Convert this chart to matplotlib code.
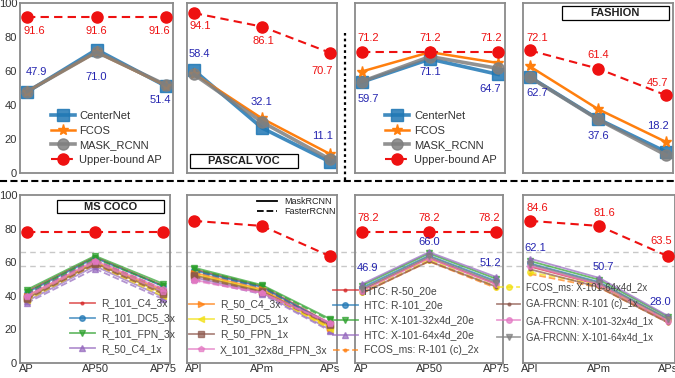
import matplotlib
matplotlib.use('Agg')
import matplotlib.pyplot as plt
import matplotlib.transforms as mtransforms
from matplotlib.lines import Line2D
from matplotlib.patches import Rectangle

plt.rcParams['font.family'] = ['Liberation Sans', 'DejaVu Sans']

# ---------------- data ----------------
metrics_a = ['AP', 'AP50', 'AP75']
metrics_b = ['APl', 'APm', 'APs']

# top row: four datasets (no title, PASCAL VOC, no title, FASHION)
centernet = [[47.6, 72.6, 51.0], [60.5, 26.5, 6.5], [53.5, 67.0, 58.0], [56.5, 31.8, 12.4]]
fcos = [[47.9, 71.0, 51.4], [58.4, 32.1, 11.1], [59.7, 71.1, 64.7], [62.7, 37.6, 18.2]]
mask_rcnn = [[47.9, 71.2, 51.8], [58.0, 30.0, 8.0], [53.8, 68.5, 61.5], [56.3, 31.5, 10.5]]
upper_top = [[91.6, 91.6, 91.6], [94.1, 86.1, 70.7], [71.2, 71.2, 71.2], [72.1, 61.4, 45.7]]

# bottom row: MS COCO
coco_models = ['R_101_C4_3x', 'R_101_DC5_3x', 'R_101_FPN_3x', 'R_50_C4_1x',
               'R_50_C4_3x', 'R_50_DC5_1x', 'R_50_FPN_1x', 'X_101_32x8d_FPN_3x']
mask_ap = [[42.6, 63.1, 46.0], [41.9, 62.6, 45.6], [43.6, 63.8, 47.2], [36.8, 57.7, 39.3],
           [39.8, 60.2, 43.2], [38.3, 59.7, 41.3], [38.6, 59.4, 42.1], [40.0, 61.0, 44.0]]
faster_ap = [[41.1, 61.4, 44.0], [40.6, 61.0, 43.2], [42.0, 62.5, 45.9], [35.7, 56.1, 38.0],
             [38.4, 58.7, 41.3], [37.3, 58.8, 39.7], [37.9, 58.8, 41.1], [39.0, 60.0, 42.5]]
mask_size = [[55.8, 45.6, 23.5], [55.2, 45.2, 23.0], [56.8, 46.4, 26.2], [51.0, 41.8, 19.8],
             [53.8, 43.9, 21.6], [52.8, 43.2, 21.2], [52.2, 42.6, 23.0], [49.5, 41.8, 24.0]]
faster_size = [[55.0, 45.2, 22.4], [54.5, 44.6, 22.0], [56.0, 45.9, 25.3], [50.0, 41.0, 19.0],
               [53.0, 43.0, 20.7], [52.0, 42.5, 20.2], [51.5, 42.0, 22.4], [49.0, 41.5, 23.5]]
upper_coco_ap = [78.2, 78.2, 78.2]
upper_coco_size = [84.6, 81.6, 63.5]

mm_models = ['HTC: R-50_20e', 'HTC: R-101_20e', 'HTC: X-101-32x4d_20e', 'HTC: X-101-64x4d_20e',
             'FCOS_ms: R-101 (c)_2x', 'FCOS_ms: X-101-64x4d_2x', 'GA-FRCNN: R-101 (c)_1x',
             'GA-FRCNN: X-101-32x4d_1x', 'GA-FRCNN: X-101-64x4d_1x']
mm_ap = [[43.3, 62.5, 47.0], [44.8, 63.9, 48.7], [46.1, 65.2, 50.1], [46.9, 66.0, 51.2],
         [41.4, 60.5, 44.6], [42.5, 61.5, 45.5], [41.5, 60.6, 45.4], [42.9, 62.3, 46.8],
         [43.9, 63.4, 47.9]]
mm_size = [[57.4, 46.6, 24.9], [59.3, 48.2, 26.1], [60.7, 49.6, 27.4], [62.1, 50.7, 28.0],
           [53.0, 45.0, 24.0], [54.0, 46.5, 25.5], [55.8, 45.2, 24.0], [57.9, 46.8, 25.1],
           [58.8, 47.6, 26.3]]
mm_dashed = [False, False, False, False, True, True, False, False, False]

ref_lines = [66.0, 57.5]

# ---------------- style ----------------
W, H = 675, 378
PX = 72 / 100
RED = '#ee1111'
BLUE = '#2525b0'
colors = ['#d62728', '#1f77b4', '#2ca02c', '#9467bd', '#ff7f0e', '#f2e011', '#8c564b', '#e377c2', '#7f7f7f']
coco_markers = ['.', 'o', 'v', '^', '>', '<', 's', 'p']
mm_markers = ['.', 'o', 'v', '^', '.', 'o', '.', 'o', 'v']

fig = plt.figure(figsize=(W / 100, H / 100), dpi=100)


def add_ax(left, right, top, bottom):
    return fig.add_axes([left / W, 1 - bottom / H, (right - left) / W, (bottom - top) / H])


def style(ax, labels, show_x, show_y):
    x = range(len(labels))
    ax.set_facecolor('none')
    ax.set_ylim(0, 100)
    ax.set_xticks(list(x))
    ax.set_xticklabels(labels, fontsize=10, color='#222222')
    ax.set_yticks(range(0, 101, 20))
    ax.tick_params(length=0, labelsize=8, labelcolor='#333333', pad=2)
    ax.tick_params(axis='x', labelbottom=show_x, pad=1)
    ax.tick_params(axis='y', labelleft=show_y)
    for s in ax.spines.values():
        s.set_color('#8a8a8a')
        s.set_linewidth(1.3)


def upper(ax, vals):
    ax.plot(range(3), vals, color=RED, ls='--', dashes=(4, 2.5), lw=1.5, marker='o', ms=8,
            zorder=6, label='Upper-bound AP')


def annot(ax, vals, offsets, color):
    for i, (v, (dx, dy)) in enumerate(zip(vals, offsets)):
        ax.annotate(f'{v:.1f}', (i, v), xytext=(dx * PX, dy * PX), textcoords='offset points',
                    ha='center', va='center', fontsize=8, color=color, zorder=8)


def boxed(ax, text, x0, x1, y0, y1):
    ax.add_patch(Rectangle((x0, y0), x1 - x0, y1 - y0, transform=ax.transAxes,
                           facecolor='white', edgecolor='black', lw=0.9, zorder=9))
    ax.text((x0 + x1) / 2, (y0 + y1) / 2, text, transform=ax.transAxes, ha='center',
            va='center', fontsize=8, fontweight='bold', color='#222222', zorder=10)


# ---------------- top row ----------------
top_pos = [(20, 173), (187, 337), (355, 505), (523, 673)]
red_off_top = [[(7, -14), (0, -14), (-7, -14)], [(6, -13), (1, -14), (-8, -18)],
               [(6, 14), (0, 14), (-7, 14)], [(7, 12.5), (0, 13.5), (-9, 12)]]
blue_off_top = [[(9, 20), (0, -25), (-6, -14)], [(6, 20), (-1, 16), (-8, 18)],
                [(6, -27), (0, -20), (-8, -26)], [(7, -26.5), (0, -27), (-8, 16)]]

for k, (l, r) in enumerate(top_pos):
    ax = add_ax(l, r, 3, 173)
    style(ax, metrics_a, False, k == 0)
    x = range(3)
    ax.plot(x, centernet[k], color='#1f77b4', alpha=0.85, lw=2.6, marker='s', ms=8, label='CenterNet')
    ax.plot(x, fcos[k], color='#ff7f0e', lw=1.8, marker='*', ms=8, label='FCOS')
    ax.plot(x, mask_rcnn[k], color='#7f7f7f', alpha=0.85, lw=2.6, marker='o', ms=8, label='MASK_RCNN')
    upper(ax, upper_top[k])
    annot(ax, upper_top[k], red_off_top[k], RED)
    annot(ax, fcos[k], blue_off_top[k], BLUE)
    if k in (0, 2):
        ax.legend(loc='upper left', bbox_to_anchor=(0.2, 0.365), frameon=False, fontsize=8,
                  borderpad=0, borderaxespad=0, labelspacing=0.42, handletextpad=0.4,
                  handlelength=2.2, labelcolor='#333333')
    if k == 1:
        boxed(ax, 'PASCAL VOC', 0.02, 0.74, 0.03, 0.11)
    if k == 3:
        boxed(ax, 'FASHION', 0.26, 0.97, 0.90, 0.98)

# ---------------- bottom row ----------------
bot_pos = [(20, 170), (187, 337), (355, 503), (523, 675)]
bot_axes = []
for k, (l, r) in enumerate(bot_pos):
    ax = add_ax(l, r, 195, 363)
    style(ax, metrics_a if k % 2 == 0 else metrics_b, True, k == 0)
    bot_axes.append(ax)

x = range(3)
for i in range(len(coco_models)):
    for ax, m, f in ((bot_axes[0], mask_ap, faster_ap), (bot_axes[1], mask_size, faster_size)):
        ax.plot(x, m[i], color=colors[i], marker=coco_markers[i], ms=4, lw=1.3, alpha=0.7)
        ax.plot(x, f[i], color=colors[i], marker=coco_markers[i], ms=4, lw=1.3, alpha=0.7, ls='--')
upper(bot_axes[0], upper_coco_ap)
upper(bot_axes[1], upper_coco_size)

for i in range(len(mm_models)):
    for ax, d in ((bot_axes[2], mm_ap), (bot_axes[3], mm_size)):
        ax.plot(x, d[i], color=colors[i], marker=mm_markers[i], ms=4, lw=1.3, alpha=0.7,
                ls='--' if mm_dashed[i] else '-')
upper(bot_axes[2], upper_coco_ap)
upper(bot_axes[3], upper_coco_size)
annot(bot_axes[2], upper_coco_ap, [(6, 14), (0, 14), (-7, 14)], RED)
annot(bot_axes[2], mm_ap[3], [(6, 16), (0, 10), (-6, 14)], BLUE)
annot(bot_axes[3], upper_coco_size, [(7, 13), (5, 13), (-7, 15)], RED)
annot(bot_axes[3], mm_size[3], [(5, 11), (4, 11), (-8, 14)], BLUE)

coco_handles = [Line2D([], [], color=colors[i], marker=coco_markers[i], ms=4, lw=1.3, alpha=0.7)
                for i in range(len(coco_models))]
mm_handles = [Line2D([], [], color=colors[i], marker=mm_markers[i], ms=4, lw=1.3, alpha=0.7,
                     ls='--' if mm_dashed[i] else '-') for i in range(len(mm_models))]
leg_kw = dict(frameon=False, borderpad=0, borderaxespad=0, handletextpad=0.6,
              handlelength=2.4, labelcolor='#444444', loc='upper left')
bot_axes[0].legend(coco_handles[:4], coco_models[:4], bbox_to_anchor=(0.33, 0.385),
                   fontsize=7.5, labelspacing=0.5, **leg_kw)
lg = bot_axes[1].legend(coco_handles[4:], coco_models[4:], bbox_to_anchor=(0.01, 0.38),
                        fontsize=7.5, labelspacing=0.5, **leg_kw)
bot_axes[1].add_artist(lg)
bot_axes[1].legend([Line2D([], [], color='black', lw=1.3), Line2D([], [], color='black', lw=1.3, ls='--')],
                   ['MaskRCNN', 'FasterRCNN'], loc='upper right', bbox_to_anchor=(0.99, 0.99),
                   frameon=False, fontsize=6.5, borderpad=0, borderaxespad=0, labelspacing=0.2,
                   handlelength=2.2, labelcolor='#222222')
bot_axes[2].legend(mm_handles[:5], mm_models[:5], bbox_to_anchor=(-0.15, 0.46),
                   fontsize=7.5, labelspacing=0.47, **leg_kw)
bot_axes[3].legend(mm_handles[5:], mm_models[5:], bbox_to_anchor=(-0.17, 0.48),
                   fontsize=6.9, labelspacing=0.7, **leg_kw)
boxed(bot_axes[0], 'MS COCO', 0.25, 0.96, 0.89, 0.97)

# ---------------- separators ----------------
fig.add_artist(Line2D([0, 1], [1 - 181 / H, 1 - 181 / H], transform=fig.transFigure,
                      color='black', lw=1.5, ls=(0, (3.4, 1.6))))
fig.add_artist(Line2D([345 / W, 345 / W], [1 - 180 / H, 1 - 33 / H], transform=fig.transFigure,
                      color='black', lw=1.6, ls=(0, (1.2, 1.4))))
tr = mtransforms.blended_transform_factory(fig.transFigure, bot_axes[0].transData)
for yv in ref_lines:
    fig.add_artist(Line2D([20 / W, 1], [yv, yv], transform=tr, color='#c8c8c8', lw=1,
                          ls=(0, (4, 3)), zorder=-1))

fig.savefig('out.png', dpi=100)
